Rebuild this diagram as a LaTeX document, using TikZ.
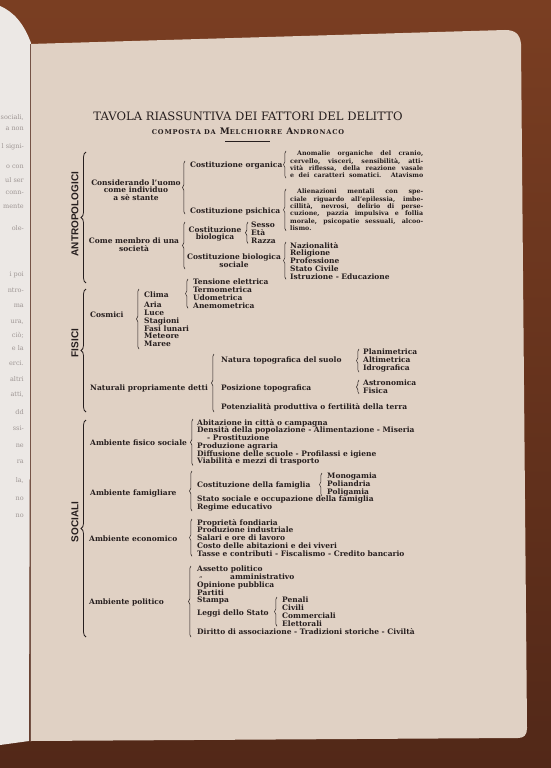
\documentclass[tikz,border=0pt]{standalone}
\usepackage{fontspec}
\setmainfont{DejaVu Serif}
\newfontfamily\catfont{Liberation Sans}
\usepackage{tikz}
\usetikzlibrary{positioning,decorations.pathreplacing}
\definecolor{woodtop}{RGB}{122,62,34}
\definecolor{woodbottom}{RGB}{82,40,24}
\definecolor{paperbeige}{RGB}{224,209,196}
\definecolor{leafwhite}{RGB}{236,232,229}
\definecolor{inkblack}{RGB}{38,30,30}
\definecolor{faintgray}{RGB}{158,150,148}
\newcommand{\tabsize}{\fontsize{7.5}{7.7}\selectfont\bfseries}
\newcommand{\notesize}{\fontsize{6.3}{7.3}\selectfont\bfseries}
\newcommand{\fsc}[1]{{\fontsize{6.6}{7}\selectfont #1}}
\newcommand{\jrow}[1]{\makebox[133pt][s]{#1}}
\tikzset{
  txt/.style={font=\tabsize, text=inkblack, inner sep=0pt},
  lst/.style={txt, align=left, anchor=north west},
  note/.style={txt, font=\notesize, align=left, anchor=north west},
  brc/.style={decorate, decoration={brace, amplitude=2.5pt}, draw=inkblack, line width=0.5pt},
  bigbrc/.style={decorate, decoration={brace, amplitude=5pt}, draw=inkblack, line width=0.8pt},
  cat/.style={font=\catfont\bfseries\fontsize{10}{10}\selectfont, text=inkblack, rotate=90, inner sep=0pt},
  leaf/.style={font=\fontsize{6.5}{7}\selectfont, text=faintgray, anchor=east, inner sep=0pt}
}

\begin{document}
\begin{tikzpicture}[x=1pt,y=-1pt]
    % table, book and pages
    \useasboundingbox (0,0) rectangle (551,768);
    \shade[top color=woodtop, bottom color=woodbottom] (0,0) rectangle (551,768);
    \fill[leafwhite] (0,6) .. controls (14,12) and (24,24) .. (31,43) -- (29,741) -- (0,745) -- cycle;
    \fill[paperbeige] (30,44) -- (505,30) .. controls (515,30) and (520,34) .. (521,44) -- (527,728)
        .. controls (527,735) and (524,738) .. (518,738) -- (30,741) -- cycle;
    \draw[woodbottom!80, line width=1pt] (30,44) -- (30,741);

    % left page, line ends only
    \begin{scope}
        \clip (0,6) .. controls (14,12) and (24,24) .. (29,43) -- (27,741) -- (0,745) -- cycle;
        \node[leaf] (lp1) at (24,117) {sociali,};
        \node[leaf] (lp2) at (24,129) {a non};
        \node[leaf] (lp3) at (24,147) {l signi-};
        \node[leaf] (lp4) at (24,167) {o con};
        \node[leaf] (lp5) at (24,180) {ul ser};
        \node[leaf] (lp6) at (24,193) {conn-};
        \node[leaf] (lp7) at (24,206) {mente};
        \node[leaf] (lp8) at (24,228) {ole-};
        \node[leaf] (lp9) at (24,275) {i poi};
        \node[leaf] (lp10) at (24,290) {ntro-};
        \node[leaf] (lp11) at (24,306) {ma};
        \node[leaf] (lp12) at (24,322) {ura,};
        \node[leaf] (lp13) at (24,335) {ciò;};
        \node[leaf] (lp14) at (24,348) {e la};
        \node[leaf] (lp15) at (24,363) {erci.};
        \node[leaf] (lp16) at (24,379) {altri};
        \node[leaf] (lp17) at (24,395) {atti,};
        \node[leaf] (lp18) at (24,412) {dd};
        \node[leaf] (lp19) at (24,428) {ssi-};
        \node[leaf] (lp20) at (24,446) {ne};
        \node[leaf] (lp21) at (24,462) {ra};
        \node[leaf] (lp22) at (24,480) {la,};
        \node[leaf] (lp23) at (24,499) {no};
        \node[leaf] (lp24) at (24,516) {no};
    \end{scope}

    % title
    \node[font=\fontsize{11.6}{12}\selectfont, text=inkblack, inner sep=0pt] (title) at (248,116)
        {TAVOLA RIASSUNTIVA DEI FATTORI DEL DELITTO};
    \node[font=\fontsize{9}{9}\selectfont\bfseries\addfontfeature{LetterSpace=12}, text=inkblack, inner sep=0pt] (author) at (248,131)
        {\fsc{COMPOSTA DA} M\fsc{ELCHIORRE} A\fsc{NDRONACO}};
    \draw[inkblack, line width=0.4pt] (225,141) -- (270,141);

    % ANTROPOLOGICI
    \node[cat] (antro) at (75,214) {ANTROPOLOGICI};
    \draw[bigbrc] (86,283) -- (86,152);
    \node[txt, align=center] (indiv) at (136,190) {Considerando l'uomo\\come individuo\\a sè stante};
    \node[txt, align=center] (membro) at (134,245) {Come membro di una\\società};
    \draw[brc] (185,214) -- (185,161);
    \draw[brc] (185,269) -- (185,222);
    \node[txt, anchor=mid west] (organica) at (190,165) {Costituzione organica};
    \node[txt, anchor=mid west] (psichica) at (190,211) {Costituzione psichica};
    \node[txt, align=center] (biologica) at (215,234) {Costituzione\\biologica};
    \node[lst] (sesso) at (251,222) {Sesso\\Età\\Razza};
    \draw[brc] ([xshift=-3pt]sesso.south west) -- ([xshift=-3pt]sesso.north west);
    \node[txt, align=center] (biosoc) at (234,261) {Costituzione biologica\\sociale};
    \node[note] (anomalie) at (290,151) {\jrow{\hspace*{7pt}Anomalie organiche del cranio,}\\
        \jrow{cervello, visceri, sensibilità, atti-}\\
        \jrow{vità riflessa, della reazione vasale}\\
        \jrow{e dei caratteri somatici. Atavismo}};
    \draw[brc] ([xshift=-4pt]anomalie.south west) -- ([xshift=-4pt]anomalie.north west);
    \node[note] (alienazioni) at (290,189) {\jrow{\hspace*{7pt}Alienazioni mentali con spe-}\\
        \jrow{ciale riguardo all'epilessia, imbe-}\\
        \jrow{cillità, nevrosi, delirio di perse-}\\
        \jrow{cuzione, pazzia impulsiva e follia}\\
        \jrow{morale, psicopatie sessuali, alcoo-}\\
        lismo.};
    \draw[brc] ([xshift=-4pt]alienazioni.south west) -- ([xshift=-4pt]alienazioni.north west);
    \node[lst] (nazione) at (290,242) {Nazionalità\\Religione\\Professione\\Stato Civile\\Istruzione - Educazione};
    \draw[brc] ([xshift=-4pt]nazione.south west) -- ([xshift=-4pt]nazione.north west);

    % FISICI
    \node[cat] (fisici) at (75,343) {FISICI};
    \draw[bigbrc] (86,412) -- (86,289);
    \node[txt, anchor=mid west] (cosmici) at (90,315) {Cosmici};
    \draw[brc] (139,349) -- (139,289);
    \node[txt, anchor=mid west] (clima) at (144,295) {Clima};
    \node[lst] (aria) at (144,302) {Aria\\Luce\\Stagioni\\Fasi lunari\\Meteore\\Maree};
    \node[lst] (tensione) at (193,279) {Tensione elettrica\\Termometrica\\Udometrica\\Anemometrica};
    \draw[brc] ([xshift=-5pt]tensione.south west) -- ([xshift=-5pt]tensione.north west);
    \node[txt, anchor=mid west] (naturali) at (90,388) {Naturali propriamente detti};
    \draw[brc] (214,412) -- (214,354);
    \node[txt, anchor=mid west] (natura) at (221,360) {Natura topografica del suolo};
    \node[txt, anchor=mid west] (posizione) at (221,388) {Posizione topografica};
    \node[txt, anchor=mid west] (fertile) at (221,407) {Potenzialità produttiva o fertilità della terra};
    \node[lst] (planim) at (363,349) {Planimetrica\\Altimetrica\\Idrografica};
    \draw[brc] ([xshift=-4pt]planim.south west) -- ([xshift=-4pt]planim.north west);
    \node[lst] (astro) at (363,380) {Astronomica\\Fisica};
    \draw[brc] ([xshift=-4pt]astro.south west) -- ([xshift=-4pt]astro.north west);

    % SOCIALI
    \node[cat] (sociali) at (75,522) {SOCIALI};
    \draw[bigbrc] (86,637) -- (86,420);
    \node[txt, anchor=mid west] (fisico) at (90,443) {Ambiente fisico sociale};
    \node[lst] (abitazione) at (197,419) {Abitazione in città o campagna\\
        Densità della popolazione - Alimentazione - Miseria\\
        \hspace*{10pt}- Prostituzione\\Produzione agraria\\
        Diffusione delle scuole - Profilassi e igiene\\Viabilità e mezzi di trasporto};
    \draw[brc] ([xshift=-4pt]abitazione.south west) -- ([xshift=-4pt]abitazione.north west);
    \node[txt, anchor=mid west] (famigliare) at (90,493) {Ambiente famigliare};
    \draw[brc] (192,511) -- (192,471);
    \node[txt, anchor=mid west] (famiglia) at (197,485) {Costituzione della famiglia};
    \node[lst] (monog) at (327,473) {Monogamia\\Poliandria\\Poligamia};
    \draw[brc] ([xshift=-5pt]monog.south west) -- ([xshift=-5pt]monog.north west);
    \node[lst] (stato) at (197,496) {Stato sociale e occupazione della famiglia\\Regime educativo};
    \node[txt, anchor=mid west] (economico) at (89,539) {Ambiente economico};
    \node[lst] (fondiaria) at (197,519) {Proprietà fondiaria\\Produzione industriale\\
        Salari e ore di lavoro\\Costo delle abitazioni e dei viveri\\
        Tasse e contributi - Fiscalismo - Credito bancario};
    \draw[brc] ([xshift=-5pt]fondiaria.south west) -- ([xshift=-5pt]fondiaria.north west);
    \node[txt, anchor=mid west] (politico) at (89,602) {Ambiente politico};
    \draw[brc] (191,637) -- (191,566);
    \node[lst] (assetto) at (197,566) {Assetto politico\\\hspace*{33pt}amministrativo\\
        Opinione pubblica\\Partiti\\Stampa};
    \node[txt, font=\fontsize{7}{7}\selectfont] (ditto) at (201,578) {„};
    \node[txt, anchor=mid west] (leggi) at (197,613) {Leggi dello Stato};
    \node[lst] (penali) at (282,597) {Penali\\Civili\\Commerciali\\Elettorali};
    \draw[brc] ([xshift=-5pt]penali.south west) -- ([xshift=-5pt]penali.north west);
    \node[txt, anchor=mid west] (diritto) at (197,632) {Diritto di associazione - Tradizioni storiche - Civiltà};
\end{tikzpicture}
\end{document}
